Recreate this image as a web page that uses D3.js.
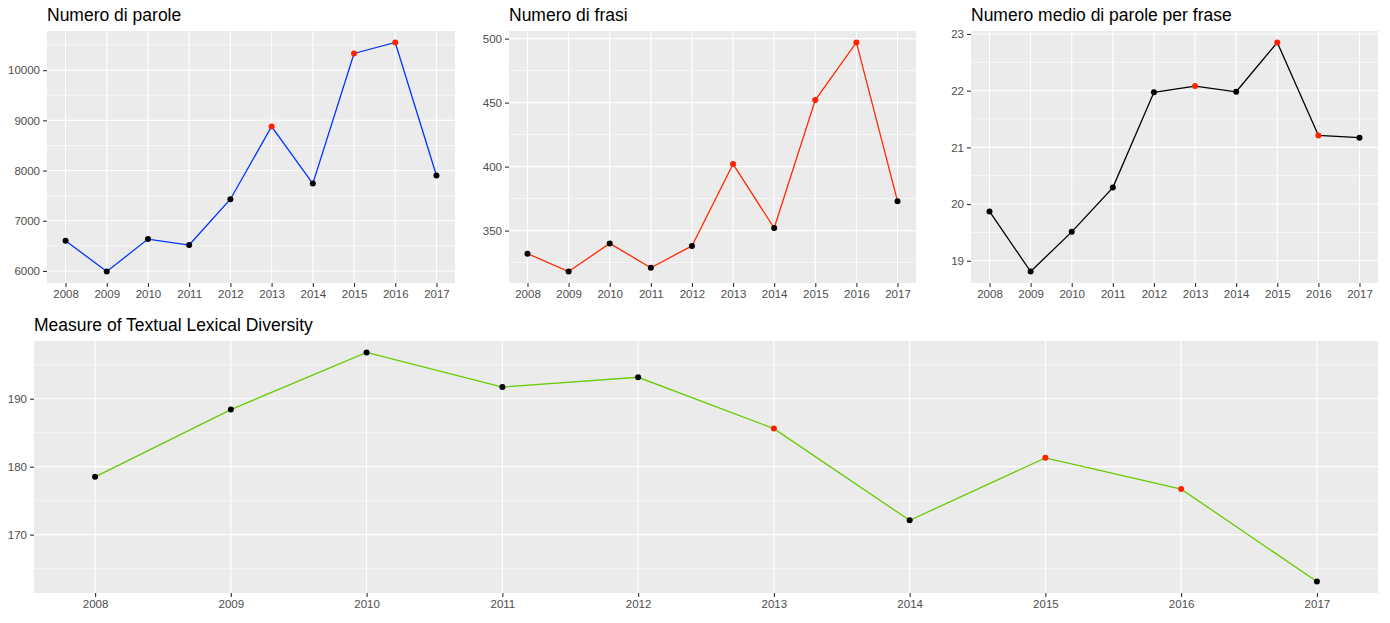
<!DOCTYPE html>
<html>
<head>
<meta charset="utf-8">
<script src="https://cdn.jsdelivr.net/npm/d3@7"></script>
<style>
  body { margin: 0; background: #fff; }
  svg { display: block; font-family: "Liberation Sans", Arial, Helvetica, sans-serif; }
</style>
</head>
<body>
<svg id="chart" width="1390" height="623"></svg>
<script>
const years = [2008, 2009, 2010, 2011, 2012, 2013, 2014, 2015, 2016, 2017];
const highlightYears = [2013, 2015, 2016];

const parole = [6603, 5988, 6635, 6516, 7429, 8877, 7740, 10333, 10552, 7901];
const frasi = [332, 318, 340, 321, 338, 402, 352, 452, 497, 373];
const medioParole = [19.87, 18.81, 19.51, 20.29, 21.97, 22.08, 21.98, 22.85, 21.21, 21.17];
const mtld = [178.5, 188.4, 196.8, 191.7, 193.15, 185.6, 172.1, 181.3, 176.7, 163.1];

const ticksParole = [6000, 7000, 8000, 9000, 10000];
const ticksFrasi = [350, 400, 450, 500];
const ticksMedio = [19, 20, 21, 22, 23];
const ticksMtld = [170, 180, 190];

const titles = ["Numero di parole", "Numero di frasi", "Numero medio di parole per frase", "Measure of Textual Lexical Diversity"];
const lineColors = ["#0033FF", "#FF2A00", "#000000", "#66CC00"];

const panels = [
  { title: titles[0], values: parole, ticks: ticksParole, color: lineColors[0], x0: 47, x1: 455, y0: 31, y1: 283 },
  { title: titles[1], values: frasi, ticks: ticksFrasi, color: lineColors[1], x0: 509, x1: 916, y0: 31, y1: 283 },
  { title: titles[2], values: medioParole, ticks: ticksMedio, color: lineColors[2], x0: 971, x1: 1378, y0: 31, y1: 283 },
  { title: titles[3], values: mtld, ticks: ticksMtld, color: lineColors[3], x0: 34, x1: 1378, y0: 341, y1: 593 }
];

const svg = d3.select("#chart");

panels.forEach(p => {
  const g = svg.append("g");
  const [mn, mx] = d3.extent(p.values);
  const pad = (mx - mn) * 0.05;
  const y = d3.scaleLinear().domain([mn - pad, mx + pad]).range([p.y1, p.y0]);
  const xpad = (years[years.length - 1] - years[0]) * 0.05;
  const x = d3.scaleLinear().domain([years[0] - xpad, years[years.length - 1] + xpad]).range([p.x0, p.x1]);

  g.append("rect").attr("x", p.x0).attr("y", p.y0).attr("width", p.x1 - p.x0).attr("height", p.y1 - p.y0).attr("fill", "#EBEBEB");

  // minor horizontal gridlines
  const step = p.ticks[1] - p.ticks[0];
  const minor = [];
  for (let i = -1; i < p.ticks.length; i++) {
    const v = p.ticks[0] + step * (i + 0.5);
    const [d0, d1] = y.domain();
    if (v > d0 && v < d1) minor.push(v);
  }
  g.selectAll(".minor").data(minor).join("line")
    .attr("x1", p.x0).attr("x2", p.x1)
    .attr("y1", d => y(d)).attr("y2", d => y(d))
    .attr("stroke", "#fff").attr("stroke-width", 0.55);

  // major gridlines
  g.selectAll(".majy").data(p.ticks).join("line")
    .attr("x1", p.x0).attr("x2", p.x1)
    .attr("y1", d => y(d)).attr("y2", d => y(d))
    .attr("stroke", "#fff").attr("stroke-width", 1.1);
  g.selectAll(".majx").data(years).join("line")
    .attr("x1", d => x(d)).attr("x2", d => x(d))
    .attr("y1", p.y0).attr("y2", p.y1)
    .attr("stroke", "#fff").attr("stroke-width", 1.1);

  // axes
  const yAxis = d3.axisLeft(y).tickValues(p.ticks).tickSize(4).tickPadding(3).tickFormat(d3.format("d"));
  const ya = g.append("g").attr("transform", `translate(${p.x0},0)`).call(yAxis);
  const xAxis = d3.axisBottom(x).tickValues(years).tickSize(4).tickPadding(3).tickFormat(d3.format("d"));
  const xa = g.append("g").attr("transform", `translate(0,${p.y1})`).call(xAxis);
  [ya, xa].forEach(a => {
    a.select(".domain").remove();
    a.selectAll(".tick line").attr("stroke", "#333333").attr("stroke-width", 1.1);
    a.selectAll(".tick text").attr("fill", "#4D4D4D").style("font-size", "11.5px")
      .style("font-family", '"Liberation Sans", Arial, Helvetica, sans-serif');
  });

  // line
  const line = d3.line().x((d, i) => x(years[i])).y(d => y(d));
  g.append("path").datum(p.values).attr("d", line).attr("fill", "none")
    .attr("stroke", p.color).attr("stroke-width", 1.3);

  // points
  g.selectAll(".pt").data(p.values).join("circle")
    .attr("cx", (d, i) => x(years[i])).attr("cy", d => y(d)).attr("r", 3)
    .attr("fill", (d, i) => highlightYears.includes(years[i]) ? "#FF2200" : "#000000");

  // title
  g.append("text").attr("x", p.x0).attr("y", p.y0 - 10.5).text(p.title)
    .attr("fill", "#000").style("font-size", "17.5px");
});
</script>
</body>
</html>
